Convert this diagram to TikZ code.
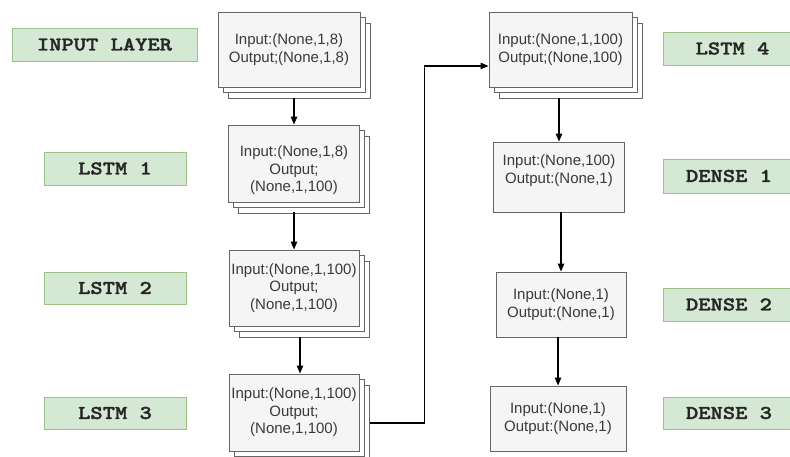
\documentclass[tikz,border=0pt]{standalone}
\usepackage{fontspec}
\setmainfont{Liberation Sans}
\newfontfamily\tagfont{lmmonolt10-bold.otf}[FakeBold=1.6, FakeStretch=1.2]
\usetikzlibrary{shadows,arrows.meta}
\definecolor{boxfill}{HTML}{F5F5F5}
\definecolor{boxline}{HTML}{666666}
\definecolor{txt}{HTML}{3A3A3A}
\definecolor{gfill}{HTML}{D5E8D4}
\definecolor{gline}{HTML}{9DC287}
\tikzset{
 boxtext/.style={text=txt, font=\fontsize{15}{17.5}\selectfont, align=center, inner sep=0pt},
 layerbox/.style={draw=boxline, fill=boxfill, line width=0.9pt, boxtext},
 stacked/.style={layerbox, double copy shadow={shadow xshift=5pt, shadow yshift=-5.5pt, fill=white, draw=boxline, line width=0.9pt}},
 tag/.style={draw=gline, fill=gfill, line width=0.9pt, text=black!85, inner sep=0pt, minimum height=33pt, font=\tagfont\fontsize{19.5}{19.5}\selectfont},
 arr/.style={-{Triangle[length=8pt,width=6.5pt]}, line width=1.1pt, black},
}
\begin{document}
\begin{tikzpicture}[x=1pt,y=-1pt]
\clip (0,0) rectangle (790,457);
\fill[white] (0,0) rectangle (790,457);
% left column stacked boxes
\node[stacked, minimum width=142pt, minimum height=75pt] (b1) at (289,49.5) {Input:(None,1,8)\\Output;(None,1,8)};
\node[stacked, minimum width=131pt, minimum height=77pt] (b2) at (294,163.5) {};
\node[boxtext] (b2t) at ([yshift=-7pt]b2.center) {Input:(None,1,8)\\Output;\\(None,1,100)};
\node[stacked, minimum width=130pt, minimum height=76pt] (b3) at (294,288) {Input:(None,1,100)\\Output;\\(None,1,100)};
\node[stacked, minimum width=130pt, minimum height=77pt] (b4) at (294,412.5) {Input:(None,1,100)\\Output;\\(None,1,100)};
% right column
\node[stacked, minimum width=143pt, minimum height=75pt] (b5) at (560.5,49.5) {Input:(None,1,100)\\Output;(None,100)};
\node[layerbox, minimum width=131pt, minimum height=70pt] (b6) at (559,177) {};
\node[boxtext] (b6t) at ([yshift=6.5pt]b6.center) {Input:(None,100)\\Output:(None,1)};
\node[layerbox, minimum width=130pt, minimum height=65pt] (b7) at (561,304.5) {Input:(None,1)\\Output:(None,1)};
\node[layerbox, minimum width=136pt, minimum height=65pt] (b8) at (558,418.5) {Input:(None,1)\\Output:(None,1)};
% green tags
\node[tag, minimum width=185pt] (t0) at (104.5,44.5) {INPUT LAYER};
\node[tag, minimum width=142pt] (t1) at (115,168.5) {LSTM 1};
\node[tag, minimum width=142pt, minimum height=32pt] (t2) at (115,288) {LSTM 2};
\node[tag, minimum width=142pt, minimum height=32pt] (t3) at (115,413) {LSTM 3};
\node[tag, minimum width=139pt] (t4) at (732.5,48.5) {LSTM 4};
\node[tag, minimum width=132pt, minimum height=34pt] (t5) at (729,176) {DENSE 1};
\node[tag, minimum width=132pt] (t6) at (729,304.5) {DENSE 2};
\node[tag, minimum width=132pt, minimum height=32pt] (t7) at (729,413) {DENSE 3};
% arrows
\draw[arr] ([yshift=-11pt]b1.south -| b2.north) -- (b2.north);
\draw[arr] ([yshift=-10pt]b2.south) -- (b3.north);
\draw[arr] ([xshift=6pt,yshift=-11pt]b3.south) -- ([xshift=6pt]b4.north);
\draw[arr] ([xshift=11pt,yshift=-10.5pt]b4.east) -- ++(54,0) |- ([yshift=-16.5pt]b5.west);
\draw[arr] ([yshift=-11pt]b5.south -| b6.north) -- (b6.north);
\draw[arr] (b6.south -| b7.north) -- (b7.north);
\draw[arr] (b7.south -| b8.north) -- (b8.north);
\end{tikzpicture}
\end{document}
